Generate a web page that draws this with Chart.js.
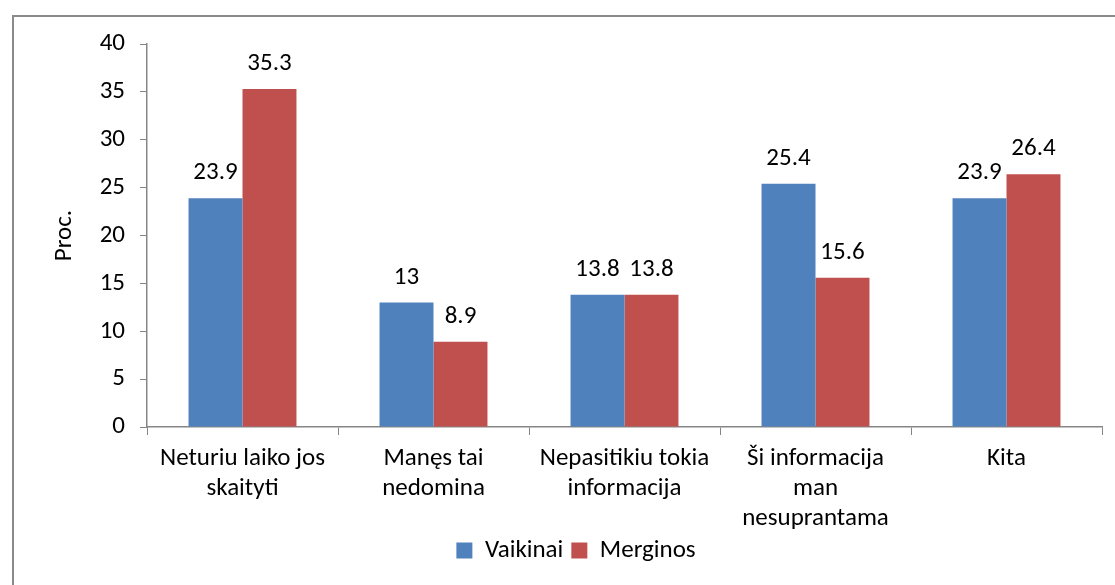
<!DOCTYPE html>
<html>
<head>
<meta charset="utf-8">
<script src="https://cdn.jsdelivr.net/npm/chart.js@4.4.1/dist/chart.umd.min.js"></script>
<style>
  html, body { margin: 0; padding: 0; background: #fff; }
  #wrap { position: relative; width: 1115px; height: 585px; overflow: hidden; }
  #frame { position: absolute; left: 12px; top: 15px; width: 1200px; height: 700px;
           border-left: 2px solid #8a8a8a; border-top: 2px solid #8a8a8a; box-sizing: border-box; }
  canvas { position: absolute; left: 0; top: 0; }
</style>
</head>
<body>
<div id="wrap">
  <div id="frame"></div>
  <canvas id="c" width="1115" height="585"></canvas>
</div>
<script>
const categories = [
  ["Neturiu laiko jos", "skaityti"],
  ["Manęs tai", "nedomina"],
  ["Nepasitikiu tokia", "informacija"],
  ["Ši informacija", "man", "nesuprantama"],
  ["Kita"]
];
const vaikinai = [23.9, 13, 13.8, 25.4, 23.9];
const merginos = [35.3, 8.9, 13.8, 15.6, 26.4];
const seriesNames = ["Vaikinai", "Merginos"];
const yTicks = [0, 5, 10, 15, 20, 25, 30, 35, 40];

const FONT = "Carlito, Calibri, Lato, 'Liberation Sans', sans-serif";
const FS = 25;
const axisColor = "#868686";

const dataLabels = {
  id: "dataLabels",
  afterDatasetsDraw(chart) {
    const ctx = chart.ctx;
    ctx.save();
    ctx.font = FS + "px " + FONT;
    ctx.fillStyle = "#000";
    ctx.textAlign = "center";
    ctx.textBaseline = "alphabetic";
    chart.data.datasets.forEach((ds, i) => {
      const meta = chart.getDatasetMeta(i);
      meta.data.forEach((bar, j) => {
        ctx.fillText(String(ds.data[j]), bar.x, bar.y - 19);
      });
    });
    ctx.restore();
  }
};

new Chart(document.getElementById("c"), {
  type: "bar",
  data: {
    labels: categories,
    datasets: [
      { label: seriesNames[0], data: vaikinai, backgroundColor: "#4F81BD" },
      { label: seriesNames[1], data: merginos, backgroundColor: "#C0504D" }
    ]
  },
  options: {
    responsive: false,
    animation: false,
    devicePixelRatio: 1,
    layout: { padding: { left: 50, top: 44, right: 13, bottom: 12 } },
    datasets: { bar: { categoryPercentage: 0.565, barPercentage: 1.0 } },
    plugins: {
      legend: {
        position: "bottom",
        labels: {
          font: { family: FONT, size: FS },
          color: "#000",
          boxWidth: 16, boxHeight: 16,
          padding: 8
        }
      },
      tooltip: { enabled: false }
    },
    scales: {
      x: {
        grid: { display: true, drawOnChartArea: false, offset: true, color: axisColor, tickLength: 8 },
        border: { color: axisColor, width: 1.5 },
        ticks: { font: { family: FONT, size: FS, lineHeight: 1.2 }, color: "#000", maxRotation: 0, padding: 9 },
        afterFit(s) { s.height = 103; }
      },
      y: {
        min: 0, max: 40,
        afterBuildTicks(s) { s.ticks = yTicks.map(v => ({ value: v })); },
        grid: { display: true, drawOnChartArea: false, color: axisColor, tickLength: 7 },
        border: { color: axisColor, width: 1.5 },
        ticks: { font: { family: FONT, size: FS }, color: "#000", padding: 15 },
        title: { display: true, text: "Proc.", font: { family: FONT, size: FS }, color: "#000", padding: 0 },
        afterFit(s) { s.width = 97; }
      }
    }
  },
  plugins: [dataLabels]
});
</script>
</body>
</html>
